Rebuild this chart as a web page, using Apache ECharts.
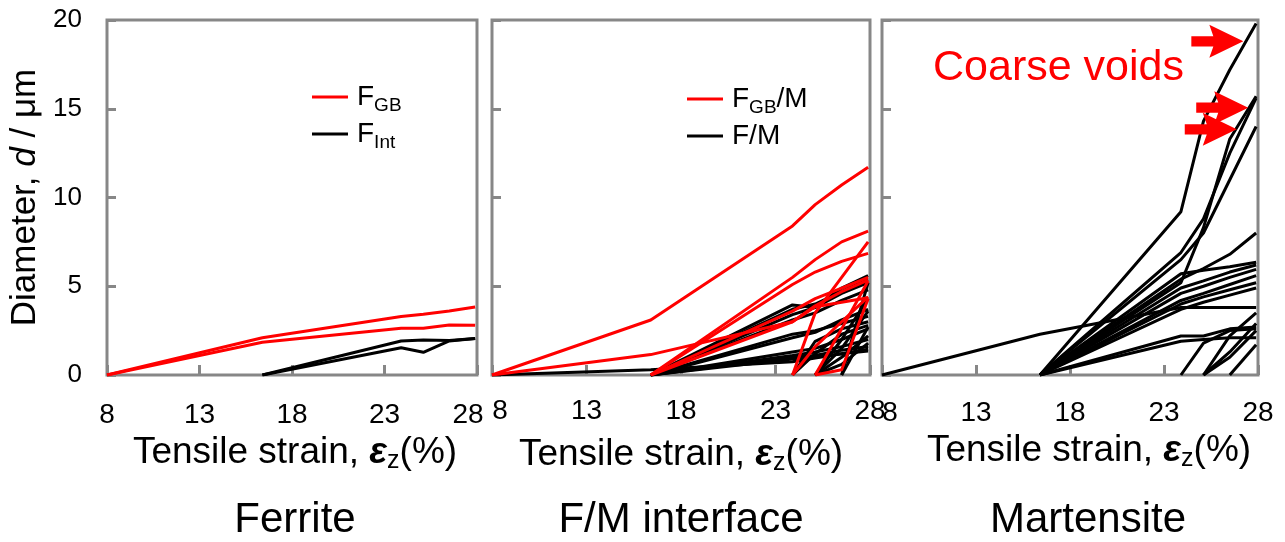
<!DOCTYPE html>
<html>
<head>
<meta charset="utf-8">
<script src="https://cdn.jsdelivr.net/npm/echarts@6/dist/echarts.min.js"></script>
<style>
  html, body { margin: 0; padding: 0; background: #fff; }
  #chart { width: 1285px; height: 542px; }
</style>
</head>
<body>
<div id="chart"></div>
<script>
// Strain steps at which void diameters were measured (%)
const strain = [8, 16.4, 23.9, 25.1, 26.5, 27.9];
const xTickValues = [8, 13, 18, 23, 28];

// Ferrite: voids at ferrite grain boundaries (red) and inside grains (black), d in µm
const ferriteGB = [
  [0, 2.1, 3.3, 3.42, 3.6, 3.83],
  [0, 1.84, 2.63, 2.63, 2.82, 2.8]
];
const ferriteInt = [
  [null, 0, 1.92, 1.97, 1.95, 2.05],
  [null, 0, 1.54, 1.28, 1.92, 2.05]
];

// F/M interface: F_GB/M (red) and F/M (black)
const interfaceGBM = [
  [0, 3.1, 8.4, 9.6, 10.7, 11.7],
  [0, 1.15, 3.0, 3.85, 4.1, 4.35],
  [null, 0, 5.5, 6.5, 7.5, 8.1],
  [null, 0, 5.1, 5.8, 6.4, 6.85],
  [null, 0, 3.6, 4.3, 4.9, 5.5],
  [null, 0, 3.0, 3.9, 4.7, 5.35],
  [null, null, 0, 3.5, 5.5, 7.5],
  [null, null, 0, 1.6, 3.0, 4.4],
  [null, null, null, 0, 0.3, 4.3],
  [null, null, null, 0, 2.6, 5.3]
];
const interfaceFM = [
  [0, 0.3, 0.75, 0.95, 1.2, 1.45],
  [null, 0, 3.95, 3.8, 4.9, 5.6],
  [null, 0, 3.7, 4.0, 4.7, 5.4],
  [null, 0, 3.4, 3.8, 4.6, 5.2],
  [null, 0, 3.1, 3.5, 4.2, 4.8],
  [null, 0, 2.3, 2.5, 2.9, 3.3],
  [null, 0, 2.1, 2.4, 3.1, 3.7],
  [null, 0, 1.3, 1.5, 2.0, 2.6],
  [null, 0, 1.1, 1.3, 1.6, 2.0],
  [null, 0, 1.0, 1.1, 1.4, 1.6],
  [null, 0, 0.9, 1.0, 1.2, 1.35],
  [null, null, 0, 1.9, 2.6, 3.0],
  [null, null, 0, 1.2, 2.3, 2.8],
  [null, null, null, 0, 1.5, 3.6],
  [null, null, null, 0, 1.0, 2.2],
  [null, null, null, 0, 2.0, 4.3],
  [null, null, null, 0, 0.6, 1.8],
  [null, null, null, null, 0, 5.2],
  [null, null, null, null, 0, 2.7]
];

// Martensite voids
const martensite = [
  [0, 2.3, 3.8, 3.8, 3.8, 3.8],
  [null, 0, 9.2, 14.3, 17.2, 19.8],
  [null, 0, 5.2, 8.3, 13.3, 15.7],
  [null, 0, 6.9, 8.8, 12.5, 15.6],
  [null, 0, 6.5, 8.0, 11.0, 14.0],
  [null, 0, 5.4, 6.0, 6.8, 8.0],
  [null, 0, 5.7, 5.9, 6.1, 6.35],
  [null, 0, 4.9, 5.3, 5.8, 6.2],
  [null, 0, 4.6, 5.0, 5.5, 5.95],
  [null, 0, 4.2, 4.6, 5.1, 5.6],
  [null, 0, 4.0, 4.4, 4.8, 5.2],
  [null, 0, 3.7, 4.1, 4.5, 4.9],
  [null, 0, 2.2, 2.2, 2.6, 2.7],
  [null, 0, 1.9, 2.0, 2.1, 2.1],
  [null, null, 0, 1.8, 2.5, 2.6],
  [null, null, null, 0, 2.2, 3.5],
  [null, null, null, 0, 1.3, 2.9],
  [null, null, null, 0, 1.0, 2.5],
  [null, null, null, null, 0, 1.7]
];

// Arrow tips marking the coarse voids [strain, d]
const coarseVoidMarks = [[27.22, 18.8], [27.48, 15.06], [26.87, 13.84]];

const panelTitles = ['Ferrite', 'F/M interface', 'Martensite'];

const FONT = '"Liberation Sans", Arial, Helvetica, sans-serif';
const AXIS_GREY = '#878787';
const RED = '#ff0000';

function toPairs(row) {
  const out = [];
  row.forEach((v, i) => { if (v !== null) out.push([strain[i], v]); });
  return out;
}

const series = [];
function addGroup(rows, name, color, panel, z) {
  rows.forEach(row => {
    series.push({
      type: 'line', name: name, xAxisIndex: panel, yAxisIndex: panel,
      data: toPairs(row), symbol: 'none', silent: true, z: z,
      color: color, lineStyle: { color: color, width: 3 }
    });
  });
}
addGroup(ferriteInt, 'FInt', '#000', 0, 2);
addGroup(ferriteGB, 'FGB', RED, 0, 3);
addGroup(interfaceFM, 'FM', '#000', 1, 2);
addGroup(interfaceGBM, 'FGBM', RED, 1, 3);
addGroup(martensite, 'Mart', '#000', 2, 2);

// red block arrows pointing at the coarse voids
series.push({
  type: 'scatter', xAxisIndex: 2, yAxisIndex: 2, data: [], silent: true, z: 5,
  markPoint: {
    symbol: 'path://M0,11 L22,11 L18,0 L52,16 L18,32 L22,21 L0,21 Z',
    symbolSize: [52, 33], symbolOffset: [-26, 0], silent: true,
    itemStyle: { color: RED },
    label: { show: false },
    data: coarseVoidMarks.map(c => ({ coord: c }))
  }
});

const grids = [
  { left: 107, top: 20, width: 370, height: 355 },
  { left: 492, top: 20, width: 378, height: 355 },
  { left: 882, top: 20, width: 376, height: 355 }
].map(g => Object.assign(g, { show: true, borderColor: AXIS_GREY, borderWidth: 3, backgroundColor: 'transparent' }));

const xNameRich = {
  m: { fontSize: 37, fontFamily: FONT, color: '#000', lineHeight: 42 },
  e: { fontSize: 37, fontFamily: FONT, color: '#000', lineHeight: 42, fontStyle: 'italic', fontWeight: 'bold' },
  s: { fontSize: 25, fontFamily: FONT, color: '#000', lineHeight: 25, verticalAlign: 'bottom' }
};
const xNameGaps = [51, 59, 47];
const xNamePad = [[0, 0, 0, 6], [0, 0, 0, 0], [0, 0, 0, 38]];
const xLabelMargins = [26, 22, 24];
// the end labels that sit next to a neighbouring panel are nudged inward
const xLabelShift = [{ 28: 'r' }, { 8: 'l' }, { 8: 'l' }];

const xAxes = [0, 1, 2].map(i => ({
  type: 'value', gridIndex: i, min: 8, max: 28,
  axisLine: { show: false },
  splitLine: { show: false },
  axisTick: { show: true, inside: true, length: 10, customValues: xTickValues,
              lineStyle: { color: AXIS_GREY, width: 3 } },
  axisLabel: {
    customValues: xTickValues, fontSize: 28, fontFamily: FONT, color: '#000',
    margin: xLabelMargins[i],
    formatter: v => xLabelShift[i][v] ? '{' + xLabelShift[i][v] + '|' + v + '}' : String(v),
    rich: {
      l: { fontSize: 28, fontFamily: FONT, color: '#000', padding: [0, 0, 0, 16] },
      r: { fontSize: 28, fontFamily: FONT, color: '#000', padding: [0, 18, 0, 0] }
    }
  },
  name: '{m|Tensile strain, }{e|ε}{s|z}{m|(%)}',
  nameLocation: 'middle', nameGap: xNameGaps[i],
  nameTextStyle: { rich: xNameRich, padding: xNamePad[i] }
}));

const yAxes = [0, 1, 2].map(i => ({
  type: 'value', gridIndex: i, min: 0, max: 20, interval: 5,
  axisLine: { show: false },
  splitLine: { show: false },
  axisTick: { show: true, inside: true, length: 9, lineStyle: { color: AXIS_GREY, width: 3 } },
  axisLabel: { show: i === 0, fontSize: 26, fontFamily: FONT, color: '#000', margin: 25 },
  name: i === 0 ? '{n|Diameter, }{i|d}{n| / μm}' : '',
  nameLocation: 'middle', nameRotate: 90, nameGap: 64,
  nameTextStyle: {
    rich: {
      n: { fontSize: 35, fontFamily: FONT, color: '#000' },
      i: { fontSize: 35, fontFamily: FONT, color: '#000', fontStyle: 'italic' }
    }
  }
}));

const legendLabels = {
  FGB: '{m|F}{s|GB}',
  FInt: '{m|F}{s|Int}',
  FGBM: '{m|F}{s|GB}{m|/M}',
  FM: '{m|F/M}'
};
const legendRich = {
  m: { fontSize: 28, fontFamily: FONT, color: '#000', lineHeight: 36 },
  s: { fontSize: 19, fontFamily: FONT, color: '#000', lineHeight: 16, verticalAlign: 'bottom' }
};
function makeLegend(names, left, top) {
  return {
    data: names, left: left, top: top, orient: 'vertical',
    icon: 'rect', itemWidth: 36, itemHeight: 3, itemGap: 5, selectedMode: false,
    formatter: n => legendLabels[n],
    textStyle: { rich: legendRich, padding: [0, 0, 0, 4] }
  };
}

const titleCenters = [295, 681, 1088];

const chart = echarts.init(document.getElementById('chart'), null, { renderer: 'canvas' });
chart.setOption({
  animation: false,
  backgroundColor: '#fff',
  grid: grids,
  xAxis: xAxes,
  yAxis: yAxes,
  legend: [makeLegend(['FGB', 'FInt'], 307, 78), makeLegend(['FGBM', 'FM'], 682, 80)],
  series: series,
  graphic: [
    { type: 'text', x: 933, y: 68, silent: true,
      style: { text: 'Coarse voids', fill: RED, font: '43px ' + FONT, textVerticalAlign: 'middle' } }
  ].concat(panelTitles.map((t, i) => ({
    type: 'text', x: titleCenters[i], y: 520, silent: true,
    style: { text: t, fill: '#000', font: '42px ' + FONT, textAlign: 'center', textVerticalAlign: 'middle' }
  })))
});
</script>
</body>
</html>
